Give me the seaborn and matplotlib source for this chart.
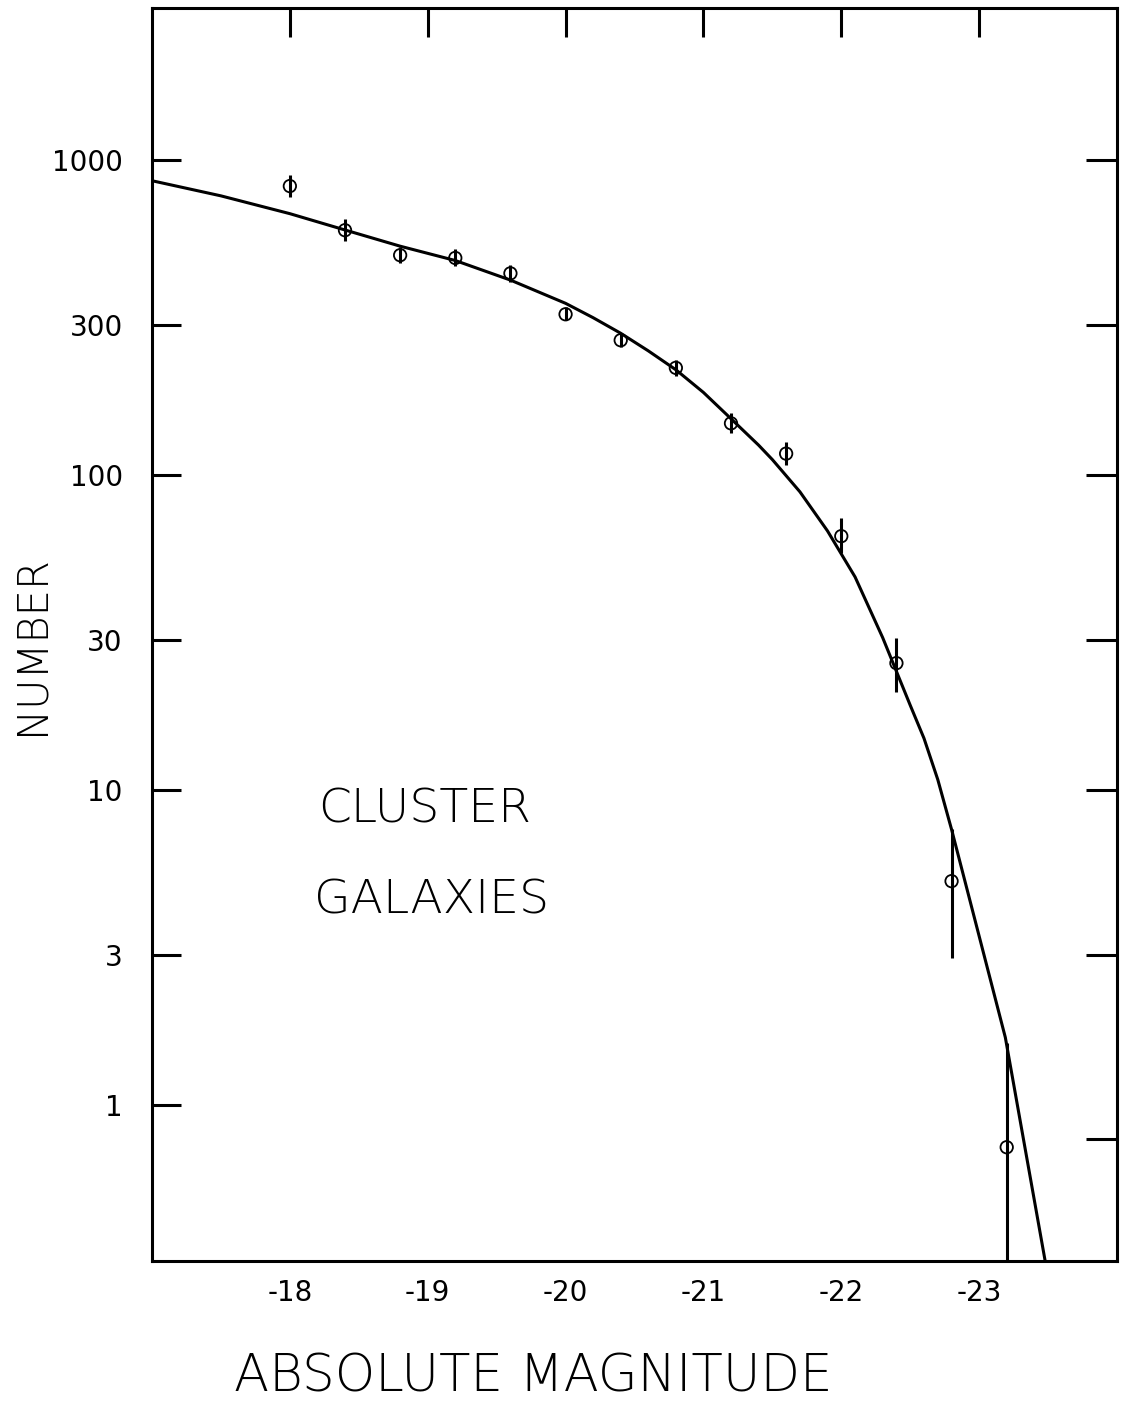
import numpy as np
import pandas as pd
import matplotlib
matplotlib.use("Agg")
import matplotlib.pyplot as plt
from matplotlib.ticker import NullLocator
import seaborn as sns

# Luminosity function of cluster galaxies: binned counts with error bars
mag = [-18.0, -18.4, -18.8, -19.2, -19.6, -20.0, -20.4,
       -20.8, -21.2, -21.6, -22.0, -22.4, -22.8, -23.2]
number = [827, 599, 499, 489, 437, 324, 268,
          219, 146, 117, 64, 25.3, 5.14, 0.735]
err_low = [763, 553, 471, 460, 411, 311, 255,
           207, 136, 108, 56.5, 20.5, 2.93, 0.1]
err_high = [896, 650, 529, 521, 464, 341, 282,
            232, 157, 127, 73, 30.4, 7.5, 1.57]

# Fitted curve, traced along the magnitude range
curve_mag = [-17.0, -17.5, -18.0, -18.4, -18.8, -19.2, -19.6, -20.0, -20.2,
             -20.4, -20.6, -20.8, -21.0, -21.2, -21.4, -21.5, -21.7, -21.9,
             -22.1, -22.3, -22.5, -22.6, -22.7, -22.8, -23.19, -23.48]
curve_num = [860, 770, 676, 600, 533, 480, 416, 351, 316,
             282, 248, 216, 183, 151, 124.5, 112, 88.5, 66.5,
             47.5, 30.5, 18.6, 14.6, 10.8, 7.5, 1.64, 0.318]

x_ticks = [-18, -19, -20, -21, -22, -23]
x_tick_labels = ["-18", "-19", "-20", "-21", "-22", "-23"]
y_ticks = [1, 3, 10, 30, 100, 300, 1000]
y_tick_labels = ["1", "3", "10", "30", "100", "300", "1000"]
right_ticks = [1000, 300, 100, 30, 10, 3, 0.78]

points = pd.DataFrame({"mag": mag, "number": number,
                       "lo": err_low, "hi": err_high})
curve = pd.DataFrame({"mag": curve_mag, "number": curve_num})

sns.set_theme(style="white")
plt.rcParams["font.family"] = ["DejaVu Sans"]
plt.rcParams["text.color"] = "black"

fig = plt.figure(figsize=(11.24, 14.19), dpi=100)
ax = fig.add_axes([0.13523, 0.11135, 0.85854, 0.88302])

sns.lineplot(data=curve, x="mag", y="number", ax=ax, color="black",
             linewidth=2.2, sort=False, estimator=None)

yerr = np.vstack([points["number"] - points["lo"],
                  points["hi"] - points["number"]])
ax.errorbar(points["mag"], points["number"], yerr=yerr, fmt="none",
            ecolor="black", elinewidth=2.2, capsize=0, zorder=3)
sns.scatterplot(data=points, x="mag", y="number", ax=ax, marker="o", s=80,
                color="none", edgecolor="black", linewidth=1.3, zorder=4)

ax.set_yscale("log")
ax.set_xlim(-17, -24)
ax.set_ylim(0.32, 3040)
ax.set_xticks(x_ticks)
ax.set_xticklabels(x_tick_labels)
ax.set_yticks(y_ticks)
ax.set_yticklabels(y_tick_labels)
ax.yaxis.set_minor_locator(NullLocator())
ax.xaxis.set_minor_locator(NullLocator())
ax.tick_params(axis="both", direction="in", length=21, width=2.2,
               colors="black", labelsize=20, top=True, right=False)
ax.tick_params(axis="y", pad=21)
ax.tick_params(axis="x", pad=13)
ax.set_xlabel("")
ax.set_ylabel("")
for sp in ax.spines.values():
    sp.set_linewidth(2.2)
    sp.set_color("black")

twin = ax.twinx()
twin.set_yscale("log")
twin.set_ylim(ax.get_ylim())
twin.set_yticks(right_ticks)
twin.set_yticklabels([])
twin.yaxis.set_minor_locator(NullLocator())
twin.tick_params(axis="y", direction="in", length=22, width=2.2,
                 colors="black")
twin.grid(False)
for sp in twin.spines.values():
    sp.set_visible(False)

ax.text(0.172, 0.36, "CLUSTER", transform=ax.transAxes, fontsize=34,
        fontweight="light", color="black", ha="left", va="center")
ax.text(0.168, 0.288, "GALAXIES", transform=ax.transAxes, fontsize=34,
        fontweight="light", color="black", ha="left", va="center")

fig.text(31 / 1124, 1 - 645 / 1419, "NUMBER", rotation=90, fontsize=30,
         fontweight="light", color="black", ha="center", va="center")
fig.text(533 / 1124, 1 - 1377 / 1419, "ABSOLUTE MAGNITUDE", fontsize=37,
         fontweight="light", color="black", ha="center", va="center")

fig.savefig("out.png", dpi=100, facecolor="white")
